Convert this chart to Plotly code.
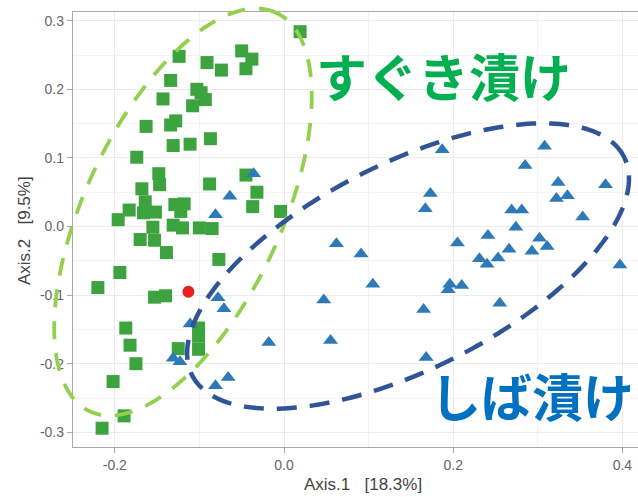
import numpy as np
import plotly.graph_objects as go

# PCoA sample scores (Axis.1, Axis.2)
suguki_x = [0.019, -0.124, -0.050, -0.038, -0.045, -0.091, -0.074, -0.134, -0.143, -0.103,
            -0.098, -0.093, -0.108, -0.163, -0.134, -0.128, -0.131, -0.111, -0.087, -0.174,
            -0.148, -0.147, -0.168, -0.088, -0.045, -0.032, -0.037, -0.004, -0.196, -0.183,
            -0.164, -0.166, -0.152, -0.129, -0.118, -0.122, -0.155, -0.131, -0.120, -0.100,
            -0.085, -0.170, -0.153, -0.139, -0.077, -0.194, -0.220, -0.153, -0.140, -0.187,
            -0.182, -0.175, -0.202, -0.189, -0.215, -0.101, -0.101, -0.125, -0.101]
suguki_y = [0.284, 0.248, 0.256, 0.244, 0.230, 0.239, 0.228, 0.213, 0.186, 0.200,
            0.195, 0.185, 0.176, 0.146, 0.148, 0.154, 0.118, 0.120, 0.128, 0.101,
            0.077, 0.061, 0.055, 0.062, 0.075, 0.050, 0.029, 0.022, 0.010, 0.024,
            0.036, 0.020, 0.021, 0.032, 0.033, 0.022, -0.001, 0.002, -0.002, -0.002,
            -0.003, -0.019, -0.020, -0.038, -0.048, -0.067, -0.089, -0.103, -0.101, -0.148,
            -0.173, -0.200, -0.226, -0.276, -0.294, -0.148, -0.160, -0.178, -0.179]

shiba_x = [-0.036, -0.064, -0.081, -0.078, -0.071, -0.111, -0.131, -0.123, -0.081, -0.066,
           -0.018, 0.055, 0.047, 0.062, 0.091, 0.105, 0.168, 0.165, 0.187, 0.173,
           0.167, 0.205, 0.196, 0.210, 0.194, 0.231, 0.240, 0.253, 0.255, 0.266,
           0.241, 0.274, 0.269, 0.281, 0.293, 0.302, 0.311, 0.285, 0.308, 0.324,
           0.322, 0.335, 0.353, 0.380, 0.397]
shiba_y = [0.077, 0.044, 0.017, -0.104, -0.120, -0.142, -0.192, -0.197, -0.232, -0.220,
           -0.169, -0.166, -0.107, -0.025, -0.040, -0.084, -0.191, -0.121, 0.112, 0.048,
           0.026, -0.024, -0.084, -0.086, -0.092, -0.047, -0.055, -0.046, -0.112, -0.033,
           -0.013, -0.001, 0.024, 0.024, -0.036, -0.017, -0.029, 0.089, 0.117, 0.064,
           0.041, 0.045, 0.014, 0.061, -0.056]

other_x = [-0.113]
other_y = [-0.095]

x_tick_vals = [-0.2, 0.0, 0.2, 0.4]
x_tick_text = ["-0.2", "0.0", "0.2", "0.4"]
y_tick_vals = [-0.3, -0.2, -0.1, 0.0, 0.1, 0.2, 0.3]
y_tick_text = ["-0.3", "-0.2", "-0.1", "0.0", "0.1", "0.2", "0.3"]
x_minor_vals = [-0.1, 0.1, 0.3]
y_minor_vals = [-0.25, -0.15, -0.05, 0.05, 0.15, 0.25]

W, H = 638, 497
M_L, M_R, M_T, M_B = 73, 0, 12, 50
X_RANGE = [-0.2494, 0.4184]
Y_RANGE = [-0.3214, 0.3127]

plot_w = W - M_L - M_R
plot_h = H - M_T - M_B
x_span = X_RANGE[1] - X_RANGE[0]
y_span = Y_RANGE[1] - Y_RANGE[0]


def ellipse_path(cx, cy, a_px, b_px, angle_deg, n=240):
    """Rotated ellipse (axes in screen pixels) around a data point, in paper
    coordinates so the outline may run past the axes."""
    t = np.linspace(0, 2 * np.pi, n, endpoint=False)
    th = np.radians(angle_deg)
    u = a_px * np.cos(t)
    v = b_px * np.sin(t)
    dx = u * np.cos(th) - v * np.sin(th)
    dy = u * np.sin(th) + v * np.cos(th)
    px = (cx - X_RANGE[0]) / x_span + dx / plot_w
    py = (cy - Y_RANGE[0]) / y_span + dy / plot_h
    return "M " + " L ".join(f"{x:.5f},{y:.5f}" for x, y in zip(px, py)) + " Z"


fig = go.Figure()

fig.add_trace(go.Scatter(
    x=suguki_x, y=suguki_y, mode="markers", name="suguki",
    marker=dict(symbol="square", size=13, color="#3DA33F", line=dict(width=0)),
))
fig.add_trace(go.Scatter(
    x=shiba_x, y=shiba_y, mode="markers", name="shiba",
    marker=dict(symbol="triangle-up", size=13, color="#2E7AB9", line=dict(width=0)),
))
fig.add_trace(go.Scatter(
    x=other_x, y=other_y, mode="markers", name="other",
    marker=dict(symbol="circle", size=12, color="#E8201E", line=dict(width=0)),
))

fig.add_shape(type="path", xref="paper", yref="paper", layer="above",
              path=ellipse_path(-0.1194, 0.0211, 220, 98, 64.9),
              line=dict(color="#92D050", width=3.8, dash="18px,14px"))
fig.add_shape(type="path", xref="paper", yref="paper", layer="above",
              path=ellipse_path(0.1466, -0.0576, 242, 103, 26.8),
              line=dict(color="#2F5597", width=4.5, dash="20px,13px"))

fig.add_annotation(x=0.189, y=0.221, xref="x", yref="y", text="すぐき漬け",
                   showarrow=False, xanchor="center", yanchor="middle",
                   font=dict(family="Noto Sans CJK JP", size=51, color="#00B050", weight="bold"))
fig.add_annotation(x=0.293, y=-0.2456, xref="x", yref="y", text="しば漬け",
                   showarrow=False, xanchor="center", yanchor="middle",
                   font=dict(family="Noto Sans CJK JP", size=51, color="#0070C0", weight="bold"))

nb = "\u00a0"
fig.add_annotation(x=(363 - M_L) / plot_w, y=(M_T + plot_h - 484) / plot_h,
                   xref="paper", yref="paper", showarrow=False,
                   xanchor="center", yanchor="middle",
                   text=f"Axis.1{nb * 3}[18.3%]",
                   font=dict(family="Liberation Sans", size=17, color="#444444"))
fig.add_annotation(x=(24 - M_L) / plot_w, y=(M_T + plot_h - 231) / plot_h,
                   xref="paper", yref="paper", showarrow=False, textangle=-90,
                   xanchor="center", yanchor="middle",
                   text=f"Axis.2{nb * 3}[9.5%]",
                   font=dict(family="Liberation Sans", size=17, color="#444444"))

axis_common = dict(
    showgrid=True, gridcolor="#EBEBEB", gridwidth=1.3,
    zeroline=False, showline=True, linecolor="#A8A8A8", linewidth=1.3,
    ticks="outside", ticklen=5, tickwidth=1.2, tickcolor="#A8A8A8",
    tickfont=dict(family="Liberation Sans", size=14, color="#666666"),
    automargin=False,
)

fig.update_xaxes(range=X_RANGE, tickvals=x_tick_vals, ticktext=x_tick_text,
                 mirror=True,
                 minor=dict(tickvals=x_minor_vals, showgrid=True, gridcolor="#F3F3F3",
                            gridwidth=0.9, ticks=""),
                 **axis_common)
fig.update_yaxes(range=Y_RANGE, tickvals=y_tick_vals, ticktext=y_tick_text,
                 mirror=False,
                 minor=dict(tickvals=y_minor_vals, showgrid=True, gridcolor="#F3F3F3",
                            gridwidth=0.9, ticks=""),
                 **axis_common)

fig.update_layout(
    width=W, height=H,
    margin=dict(l=M_L, r=M_R, t=M_T, b=M_B, pad=0),
    plot_bgcolor="white", paper_bgcolor="white",
    showlegend=False,
)

fig.write_html("out.html")
